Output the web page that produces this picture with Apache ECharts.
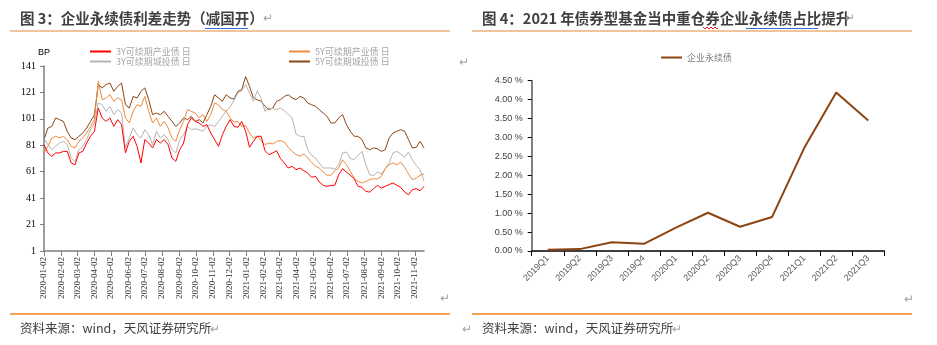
<!DOCTYPE html>
<html><head><meta charset="utf-8">
<script src="https://cdn.jsdelivr.net/npm/echarts@6/dist/echarts.min.js"></script>
<style>html,body{margin:0;padding:0;background:#fff;}#c{width:937px;height:345px;}</style>
</head><body><div id="c"></div>
<script>
// ---------- Left chart data (weekly readings, BP) ----------
const leftStart = '2020-01-02';
const leftEnd = '2021-11-18';
const sampleStepDays = 7;
const leftTickDay = '02'; // month ticks on the 2nd
const seriesNames = ['5Y可续期城投债 日', '3Y可续期城投债 日', '5Y可续期产业债 日', '3Y可续期产业债 日'];
const yLeftTicks = {min: 1, max: 141, step: 20};

const brown5Y = [85.3,94.0,95.3,101.7,100.4,99.1,91.6,86.5,85.3,87.8,
90.3,94.0,99.1,104.0,127.0,124.4,126.9,128.1,121.8,125.6,
128.1,111.7,109.2,118.0,116.8,121.8,124.4,115.5,104.2,105.4,
104.2,106.7,102.9,99.1,95.3,97.9,101.7,100.4,102.9,99.1,
100.4,97.9,104.2,110.5,119.3,116.8,114.3,119.3,116.8,116.0,
121.8,123.1,133.0,125.6,116.8,115.5,114.3,110.5,108.0,109.2,
114.3,115.5,118.0,119.3,116.8,115.5,118.0,116.8,113.0,111.7,
110.5,108.0,105.4,102.9,97.9,97.9,101.7,104.2,96.6,91.6,
87.8,87.8,85.3,79.0,77.7,79.0,78.4,76.4,77.7,86.5,
90.3,91.6,92.8,91.6,85.3,79.0,79.5,84.0,79.0];

const gray3Y = [86.5,81.5,77.7,80.2,82.7,84.0,81.5,71.4,68.9,77.7,
80.2,85.3,92.8,97.9,113.0,111.7,106.7,110.5,104.2,107.9,
105.4,79.0,86.5,94.1,89.0,86.5,92.8,89.0,81.5,91.6,
86.5,89.0,85.3,77.7,75.2,85.3,89.0,95.3,92.8,93.5,
92.8,91.6,95.3,96.6,95.0,99.0,103.0,107.0,110.0,115.0,
120.6,122.3,126.9,120.6,114.3,122.3,116.3,106.7,109.2,108.7,
108.0,109.2,107.2,104.2,101.7,89.5,87.8,87.8,77.7,73.4,
71.4,67.6,63.8,63.8,63.8,62.8,66.3,75.2,75.9,70.9,
70.1,73.4,76.4,66.3,58.8,58.0,60.8,59.3,63.3,67.6,
75.2,76.4,74.4,71.9,75.9,70.1,65.8,62.5,53.7];

const orange5Y = [75.2,80.2,86.5,87.8,86.5,87.8,85.3,80.2,79.0,84.0,
86.5,90.3,95.3,100.4,129.4,115.5,116.8,119.3,114.3,116.8,
115.5,101.7,97.9,106.7,111.7,110.5,118.0,106.7,97.9,101.7,
95.3,99.1,94.1,86.5,84.0,92.8,99.1,108.0,106.7,105.4,
101.7,104.2,99.1,104.2,113.0,111.7,108.0,106.7,101.7,98.5,
99.1,95.3,96.0,90.3,86.5,87.8,84.5,81.5,82.7,82.0,
84.0,84.5,83.5,79.5,76.4,73.9,72.9,74.4,71.4,68.1,
65.1,63.8,60.8,58.3,58.3,61.8,63.8,70.1,66.3,61.3,
56.2,53.7,52.5,53.7,55.0,55.7,55.5,57.5,63.3,66.3,
67.6,66.3,68.3,64.3,59.3,55.0,56.2,58.3,59.3];

const red3Y = [81.5,75.2,72.6,75.2,75.2,76.4,76.4,67.6,66.3,75.2,
76.4,82.7,87.8,91.6,109.2,101.7,99.1,101.7,95.3,100.4,
96.6,75.2,84.0,87.8,80.2,67.6,85.3,82.7,79.0,85.3,
82.7,85.3,81.5,71.4,68.9,77.7,82.7,96.6,101.7,99.1,
97.9,95.3,96.6,90.3,85.3,80.2,89.0,95.3,100.4,95.3,
94.6,99.1,91.6,79.5,84.0,87.8,87.8,76.9,73.9,75.2,
76.9,70.9,67.6,63.8,65.1,62.5,63.8,61.8,60.0,56.7,
57.5,53.2,50.7,49.9,50.7,50.7,58.8,63.3,60.8,58.3,
55.7,49.9,49.2,46.1,45.6,48.2,50.7,48.7,49.9,51.2,
52.5,50.7,49.2,45.6,43.6,47.4,48.2,46.6,49.9];

// ---------- Right chart data (%) ----------
const quarters = ['2019Q1','2019Q2','2019Q3','2019Q4','2020Q1','2020Q2','2020Q3','2020Q4','2021Q1','2021Q2','2021Q3'];
const perpShare = [0.03,0.05,0.23,0.19,0.62,1.01,0.64,0.90,2.72,4.19,3.45];
const rightName = '企业永续债';
const yRightTicks = {min: 0, max: 4.5, step: 0.5};

// ---------- build daily category axis ----------
function buildDays(a, b) {
  const out = [];
  const p = s => { const t = s.split('-').map(Number); return Date.UTC(t[0], t[1]-1, t[2]); };
  for (let t = p(a); t <= p(b); t += 86400000) out.push(new Date(t).toISOString().slice(0,10));
  return out;
}
const days = buildDays(leftStart, leftEnd);
function toDaily(vals) {
  const arr = new Array(days.length).fill(null);
  vals.forEach((v, i) => { const k = i * sampleStepDays; if (k < days.length) arr[k] = v; });
  return arr;
}
const isTick = (idx, val) => String(val).slice(8) === leftTickDay;

const leftColors = ['#8B4513', '#B4B4B4', '#F08A3C', '#FF0000'];
const leftVals = [brown5Y, gray3Y, orange5Y, red3Y];

const chart = echarts.init(document.getElementById('c'), null, {renderer: 'canvas'});

const cjk = '"Noto Sans CJK SC", sans-serif';
function legendAt(name, left, top) {
  return {data: [name], left: left, top: top, orient: 'horizontal', padding: 0, itemGap: 0,
    icon: 'rect', itemWidth: 21, itemHeight: 2,
    textStyle: {fontSize: 9, color: '#A6A6A6', fontFamily: cjk}, selectedMode: false};
}
function txt(text, x, y, font, fill, align) {
  return {type: 'text', silent: true, style: {text: text, x: x, y: y, font: font, fill: fill,
    textAlign: align || 'left', align: align || 'left', textVerticalAlign: 'middle', verticalAlign: 'middle'}};
}
function ln(x1, y1, x2, y2, color, w) {
  return {type: 'line', silent: true, shape: {x1: x1, y1: y1, x2: x2, y2: y2}, style: {stroke: color, lineWidth: w || 1}};
}
const ret = '↵';
const retFont = '12px ' + cjk;

const option = {
  animation: false,
  backgroundColor: '#fff',
  grid: [
    {left: 44, top: 66, width: 380, height: 185},
    {left: 531.7, top: 80.7, width: 352.6, height: 170.3}
  ],
  legend: [
    legendAt(seriesNames[3], 90, 47),
    legendAt(seriesNames[2], 289, 47),
    legendAt(seriesNames[1], 90, 57),
    legendAt(seriesNames[0], 289, 57),
    Object.assign(legendAt(rightName, 661, 53), {textStyle: {fontSize: 9, color: '#7F7F7F', fontFamily: cjk}})
  ],
  xAxis: [
    {gridIndex: 0, type: 'category', data: days, boundaryGap: false,
      axisLine: {lineStyle: {color: '#7F7F7F', width: 1.5}},
      axisTick: {show: true, interval: isTick, length: 5, lineStyle: {color: '#7F7F7F'}},
      axisLabel: {interval: isTick, rotate: 90, margin: 6, fontFamily: 'Liberation Serif', fontSize: 9, color: '#333'},
      splitLine: {show: false}},
    {gridIndex: 1, type: 'category', data: quarters, boundaryGap: true,
      axisLine: {lineStyle: {color: '#000', width: 1.5}},
      axisTick: {show: true, length: 5, lineStyle: {color: '#000'}},
      axisLabel: {interval: 0, rotate: 45, margin: 6, fontFamily: 'Liberation Sans', fontSize: 9, color: '#595959'},
      splitLine: {show: false}}
  ],
  yAxis: [
    {gridIndex: 0, type: 'value', min: yLeftTicks.min, max: yLeftTicks.max, interval: yLeftTicks.step,
      axisLine: {show: true, lineStyle: {color: '#7F7F7F', width: 1.5}},
      axisTick: {show: true, length: 4, lineStyle: {color: '#7F7F7F'}},
      axisLabel: {margin: 8, fontFamily: 'Liberation Serif', fontSize: 10, color: '#000'},
      splitLine: {show: false}},
    {gridIndex: 1, type: 'value', min: yRightTicks.min, max: yRightTicks.max, interval: yRightTicks.step,
      axisLine: {show: true, lineStyle: {color: '#808080', width: 2}},
      axisTick: {show: true, length: 4, lineStyle: {color: '#000'}},
      axisLabel: {margin: 9, fontFamily: 'Liberation Sans', fontSize: 9, color: '#404040',
        formatter: v => v.toFixed(2) + ' %'},
      splitLine: {show: false}}
  ],
  series: leftVals.map((vals, k) => ({
    name: seriesNames[k], type: 'line', xAxisIndex: 0, yAxisIndex: 0,
    data: toDaily(vals), connectNulls: true, showSymbol: false, symbol: 'none',
    lineStyle: {color: leftColors[k], width: 1}, itemStyle: {color: leftColors[k]}
  })).concat([{
    name: rightName, type: 'line', xAxisIndex: 1, yAxisIndex: 1, data: perpShare,
    showSymbol: false, symbol: 'none', lineStyle: {color: '#8B4513', width: 2}, itemStyle: {color: '#8B4513'}
  }]),
  graphic: [
    txt('图 3：企业永续债利差走势（减国开）', 20, 18, 'bold 14.5px ' + cjk, '#404040'),
    txt('图 4：2021 年债券型基金当中重仓券企业永续债占比提升', 482, 18, 'bold 14.5px ' + cjk, '#404040'),
    ln(10, 31, 450, 31, '#E08A3C', 1),
    ln(472, 31, 912, 31, '#E08A3C', 1),
    ln(205, 28.5, 248, 28.5, '#2F6FD6', 1.2),
    ln(746, 28.5, 818, 28.5, '#2F6FD6', 1.2),
    {type: 'polyline', silent: true, shape: {points: [[703,27],[705,29],[707,27],[709,29],[711,27],[713,29],[715,27],[717,29],[718,28]]},
      style: {stroke: '#E02020', lineWidth: 1, fill: null}},
    txt(ret, 263, 17, retFont, '#A0A0A0'),
    txt(ret, 845, 17, retFont, '#A0A0A0'),
    txt(ret, 459, 61, retFont, '#A0A0A0'),
    txt(ret, 440, 297, retFont, '#A0A0A0'),
    txt(ret, 904, 298, retFont, '#A0A0A0'),
    txt('BP', 38, 53, '9px "Liberation Sans", sans-serif', '#000'),
    ln(10, 314, 450, 314, '#F0841E', 1.5),
    ln(472, 314, 912, 314, '#F0841E', 1.5),
    txt('资料来源：wind，天风证券研究所', 20, 328, '12.5px ' + cjk, '#404040'),
    txt(ret, 210, 328, retFont, '#A0A0A0'),
    txt(ret, 462, 328, retFont, '#A0A0A0'),
    txt('资料来源：wind，天风证券研究所', 482, 328, '12.5px ' + cjk, '#404040'),
    txt(ret, 672, 328, retFont, '#A0A0A0')
  ]
};
chart.setOption(option);
</script></body></html>
